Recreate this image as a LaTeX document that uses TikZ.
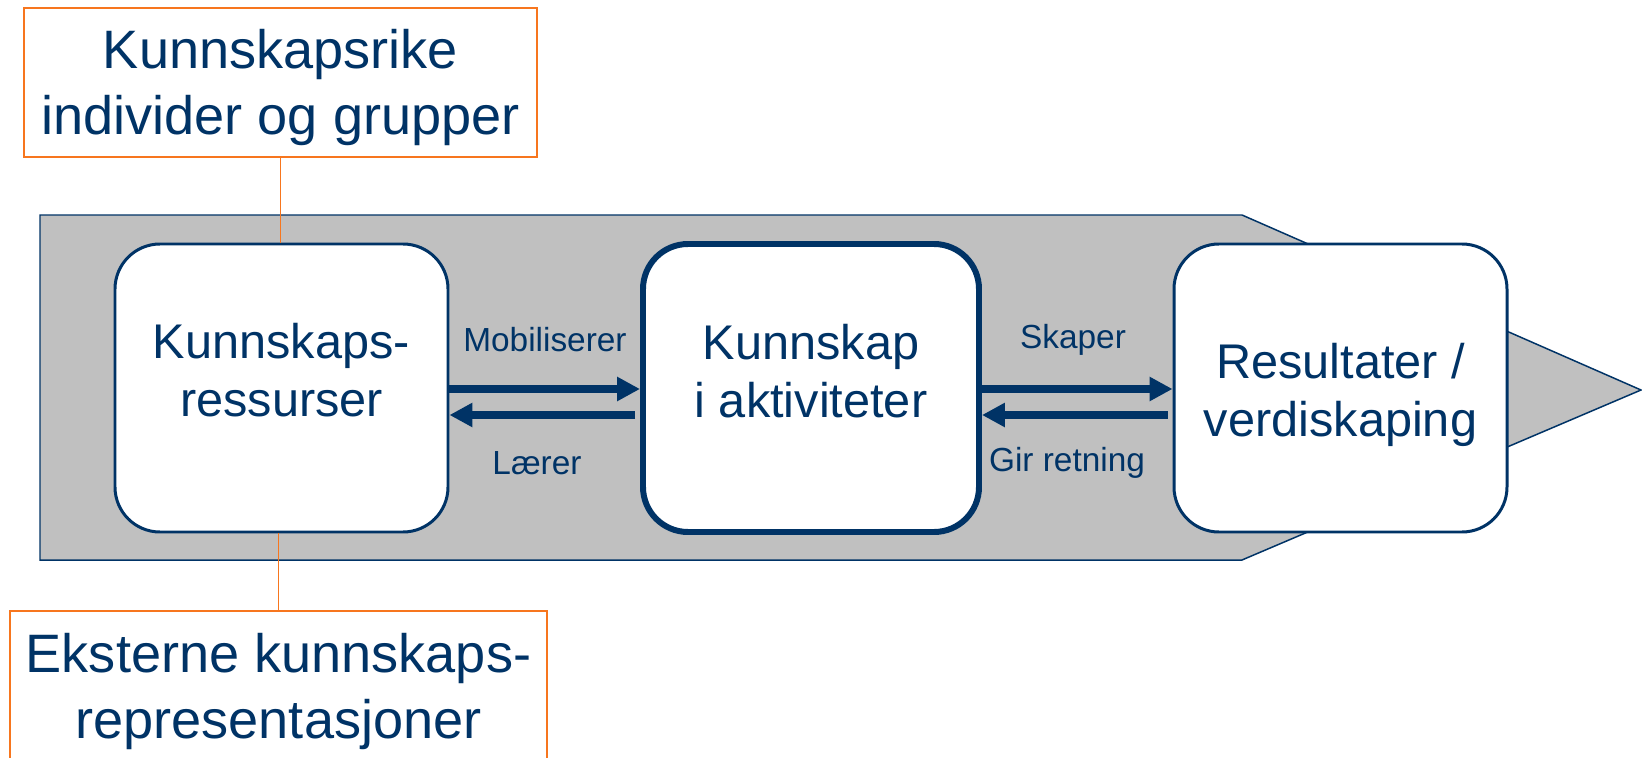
\documentclass[tikz,border=0pt]{standalone}
\usepackage{fontspec}
\setmainfont{Liberation Sans}
\usepackage{tikz}
\usetikzlibrary{arrows.meta,positioning,calc}
\definecolor{navy}{RGB}{0,51,102}
\definecolor{rust}{RGB}{247,118,30}
\definecolor{shade}{RGB}{192,192,192}

\begin{document}
\begin{tikzpicture}[>={Triangle[length=13pt,width=13pt]},
    kbox/.style={draw=navy, line width=1.7pt, fill=white, rounded corners=0.9cm, minimum width=6.66cm, minimum height=5.76cm},
    ktext/.style={align=center, text=navy, font=\fontsize{27.7}{33}\selectfont},
    note/.style={draw=rust, line width=1pt, fill=white, minimum height=2.98cm, align=center, text=navy, font=\fontsize{30.8}{37}\selectfont},
    flow/.style={->, navy, line width=4pt},
    verb/.style={text=navy, font=\fontsize{19}{23}\selectfont}]
    \useasboundingbox (0,0) rectangle (32.84,15.14);
    \clip (0,0) rectangle (32.84,15.14);
    % Value chain arrow
    \draw[navy, line width=0.85pt, fill=shade] (0.80,10.84) -- (24.84,10.84) -- (32.82,7.34) -- (24.84,3.94) -- (0.80,3.94) -- cycle;
    % Stages
    \node[kbox] (res) at (5.63,7.38) {};
    \node[kbox, line width=3.4pt, minimum width=6.72cm] (akt) at (16.22,7.38) {};
    \node[kbox] (val) at (26.81,7.38) {};
    \node[ktext] (restxt) at ([yshift=0.36cm]res.center) {Kunnskaps-\\ressurser};
    \node[ktext] (akttxt) at ([yshift=0.34cm]akt.center) {Kunnskap\\i aktiviteter};
    \node[ktext] (valtxt) at ([yshift=-0.14cm]val.center) {Resultater /\\verdiskaping};
    % Notes
    \node[note, minimum width=10.26cm] (rich) at (5.61,13.49) {};
    \node[note, minimum width=10.73cm] (ext) at (5.57,1.43) {};
    \node[note, draw=none, fill=none] (richtxt) at ([yshift=-0.1cm]rich.center) {Kunnskapsrike\\individer og grupper};
    \node[note, draw=none, fill=none] (exttxt) at ([yshift=-0.12cm]ext.center) {Eksterne kunnskaps-\\representasjoner};
    \draw[rust, line width=1pt] (rich.south) -- (rich.south |- res.north);
    \draw[rust, line width=1pt] (ext.north) -- (ext.north |- res.south);
    % Arrows
    \draw[flow] ([yshift=-0.02cm]res.east) -- ([yshift=-0.02cm]akt.west);
    \draw[flow] ([xshift=-0.1cm,yshift=-0.54cm]akt.west) -- ([yshift=-0.54cm]res.east);
    \draw[flow] ([yshift=-0.02cm]akt.east) -- ([yshift=-0.02cm]val.west);
    \draw[flow] ([xshift=-0.1cm,yshift=-0.54cm]val.west) -- ([yshift=-0.54cm]akt.east);
    % Labels
    \node[verb] (mob) at (10.90,8.34) {Mobiliserer};
    \node[verb] (lar) at (10.74,5.88) {Lærer};
    \node[verb] (ska) at (21.46,8.34) {Skaper};
    \node[verb] (gir) at (21.34,5.88) {Gir retning};
\end{tikzpicture}
\end{document}
